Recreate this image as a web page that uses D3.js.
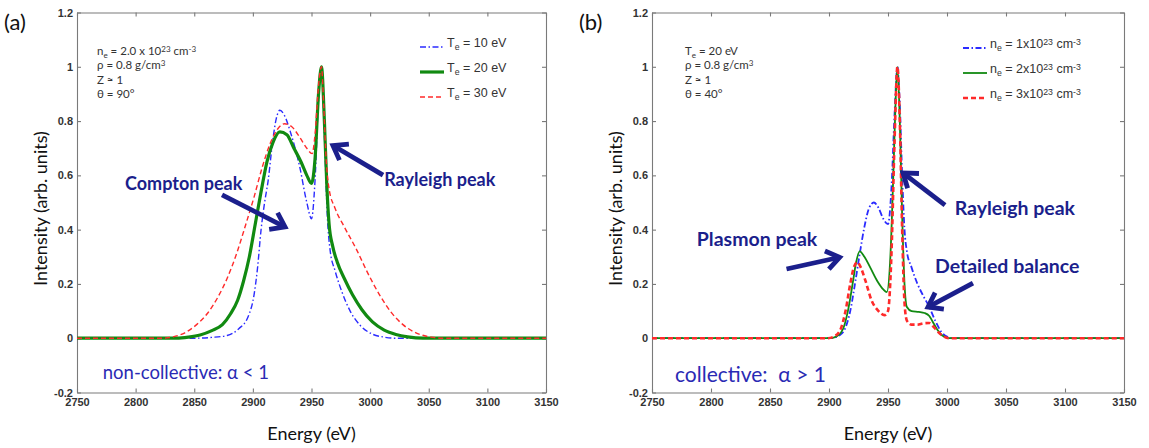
<!DOCTYPE html>
<html>
<head>
<meta charset="utf-8">
<script src="https://cdn.jsdelivr.net/npm/d3@7"></script>
<style>
  body { margin: 0; background: #fff; }
  svg { display: block; }
</style>
</head>
<body>
<svg id="chart" width="1149" height="448"></svg>
<script>
// ---- data: [energy (eV), intensity (arb. units)] ----

// panel (a): non-collective, three temperatures
const te10 = [[2750,0],[2850,0],[2865,0.003],[2878,0.01],[2888,0.035],[2896,0.08],[2901,0.16],[2904,0.26],[2907,0.40],[2910,0.50],[2913,0.58],[2917,0.73],[2920,0.81],[2923,0.84],[2927,0.82],[2932,0.76],[2940,0.63],[2946,0.50],[2950,0.44],[2953,0.58],[2956,0.88],[2958.5,1.0],[2961,0.75],[2963.5,0.45],[2966,0.32],[2970,0.25],[2976,0.17],[2983,0.10],[2992,0.045],[3002,0.015],[3012,0.004],[3022,0],[3150,0]]
const te20 = [[2750,0],[2835,0],[2845,0.004],[2855,0.012],[2865,0.028],[2874,0.05],[2881,0.09],[2887,0.14],[2892,0.21],[2897,0.30],[2902,0.42],[2907,0.54],[2912,0.65],[2917,0.72],[2923,0.76],[2929,0.75],[2935,0.70],[2941,0.65],[2946,0.60],[2950,0.57],[2953,0.66],[2956,0.90],[2958.5,1.0],[2961,0.80],[2963,0.57],[2965,0.42],[2968,0.34],[2972,0.28],[2978,0.22],[2985,0.16],[2993,0.105],[3002,0.06],[3012,0.03],[3022,0.014],[3032,0.005],[3045,0],[3150,0]]
const te30 = [[2750,0],[2822,0],[2832,0.005],[2842,0.02],[2852,0.05],[2861,0.09],[2870,0.15],[2878,0.22],[2886,0.31],[2894,0.42],[2901,0.52],[2908,0.63],[2915,0.72],[2921,0.77],[2927,0.79],[2933,0.78],[2940,0.74],[2946,0.70],[2950.5,0.68],[2953,0.75],[2956,0.93],[2958.5,1.0],[2960.5,0.85],[2962.5,0.66],[2965,0.55],[2970,0.48],[2978,0.41],[2988,0.33],[2998,0.24],[3008,0.16],[3018,0.095],[3028,0.05],[3040,0.018],[3052,0.004],[3062,0],[3150,0]]

// panel (b): collective, three densities
const ne1 = [[2750,0],[2902,0],[2908,0.008],[2913,0.03],[2918,0.10],[2922,0.20],[2926,0.31],[2930,0.41],[2934,0.48],[2938,0.50],[2942,0.48],[2946,0.44],[2950,0.42],[2953,0.56],[2955.5,0.82],[2958,1.0],[2960,0.86],[2962,0.60],[2964,0.40],[2966,0.32],[2970,0.26],[2975,0.20],[2980,0.155],[2985,0.115],[2990,0.065],[2995,0.025],[3000,0.006],[3006,0],[3150,0]]
const ne2 = [[2750,0],[2901,0],[2907,0.008],[2912,0.035],[2916,0.10],[2920,0.20],[2923,0.28],[2926,0.32],[2930,0.30],[2935,0.26],[2941,0.21],[2946,0.18],[2949,0.17],[2952,0.30],[2954.5,0.60],[2956.5,0.88],[2958,1.0],[2960,0.80],[2962,0.45],[2964,0.20],[2966,0.115],[2970,0.10],[2976,0.097],[2981,0.093],[2985,0.082],[2988,0.06],[2992,0.03],[2996,0.01],[3002,0],[3150,0]]
const ne3 = [[2750,0],[2899,0],[2905,0.008],[2910,0.035],[2914,0.10],[2918,0.20],[2921,0.26],[2924,0.28],[2927,0.26],[2931,0.21],[2936,0.14],[2942,0.10],[2947,0.085],[2950,0.10],[2953,0.32],[2955.5,0.72],[2958,1.0],[2960,0.80],[2962,0.40],[2964,0.13],[2966,0.065],[2970,0.05],[2975,0.05],[2980,0.055],[2985,0.056],[2988,0.045],[2992,0.025],[2996,0.01],[3002,0],[3150,0]]

// axes
const xTicks = [2750, 2800, 2850, 2900, 2950, 3000, 3050, 3100, 3150]
const yTicks = [-0.2, 0, 0.2, 0.4, 0.6, 0.8, 1, 1.2]

// labels ( _{..} = subscript, ^{..} = superscript )
const legendA = ['T_{e} = 10 eV', 'T_{e} = 20 eV', 'T_{e} = 30 eV']
const legendB = ['n_{e}  =  1x10^{23} cm^{-3}', 'n_{e}  =  2x10^{23} cm^{-3}', 'n_{e}  =  3x10^{23} cm^{-3}']
const paramsA = ['n_{e} = 2.0 x 10^{23} cm^{-3}', 'ρ =  0.8 g/cm^{3}', 'Z ≈ 1', 'θ = 90°']
const paramsB = ['T_{e} = 20 eV', 'ρ =  0.8 g/cm^{3}', 'Z ≈ 1', 'θ = 40°']

// ---- styles ----
const BLUE = '#2b2bff', GREEN = '#118a11', RED = '#ff2a2a'
const NAVY = '#1b1f8c', TEXTBLUE = '#2a2ab4'
const styleA = [
  {stroke: BLUE, width: 1.4, dash: '6,2.5,1.5,2.5'},
  {stroke: GREEN, width: 3.2, dash: null},
  {stroke: RED, width: 1.4, dash: '5,3'}
]
const styleB = [
  {stroke: BLUE, width: 1.8, dash: '6,2.5,1.5,2.5'},
  {stroke: GREEN, width: 1.8, dash: null},
  {stroke: RED, width: 2.6, dash: '5,3'}
]

const panels = [
  {
    tag: '(a)', left: 77, right: 546,
    series: [te10, te20, te30], styles: styleA,
    legend: legendA, legendX: 343, legendRows: [45, 70, 95],
    params: paramsA, paramX: 20,
    noteSize: 18, regimeSize: 18.5,
    notes: [
      {text: 'Compton peak', e: 2791, i: 0.57},
      {text: 'Rayleigh peak', e: 3012, i: 0.583}
    ],
    arrows: [
      {from: [2873.7, 0.528], to: [2927.4, 0.41]},
      {from: [3011, 0.601], to: [2968.3, 0.71]}
    ],
    regime: {text: 'non-collective: α < 1', e: 2772, i: -0.128}
  },
  {
    tag: '(b)', left: 652, right: 1124,
    series: [ne1, ne2, ne3], styles: styleB,
    legend: legendB, legendX: 311, legendRows: [46, 71, 96],
    params: paramsB, paramX: 33,
    noteSize: 19.5, regimeSize: 21,
    notes: [
      {text: 'Plasmon peak', e: 2788, i: 0.362},
      {text: 'Rayleigh peak', e: 3006.5, i: 0.475},
      {text: 'Detailed balance', e: 2989.8, i: 0.262}
    ],
    arrows: [
      {from: [2864, 0.255], to: [2909, 0.298]},
      {from: [2998.3, 0.49], to: [2962.7, 0.609]},
      {from: [3022, 0.203], to: [2983.9, 0.115]}
    ],
    regime: {text: 'collective:\u00a0 α > 1', e: 2769.5, i: -0.14}
  }
]

const svg = d3.select('#chart')
const plotTop = 12.5, plotBottom = 392.5
const SANS = '"Liberation Sans", Arial, sans-serif'
const CAL = 'Lato, "Open Sans", sans-serif'

// Writes a string with _{sub} and ^{sup} parts as tspans
const richText = (sel, str) => {
  const re = /([_^])\{([^}]*)\}|([^_^]+)/g
  let m, shift = 0
  while ((m = re.exec(str)) !== null) {
    const s = m[1] === '_' ? 2.5 : m[1] === '^' ? -3.5 : 0
    sel.append('tspan')
      .attr('dy', s - shift)
      .attr('font-size', m[1] ? '0.7em' : null)
      .text(m[1] ? m[2] : m[3])
    shift = s
  }
  return sel
}

// Thick arrow with an open chevron head
const drawArrow = (g, x1, y1, x2, y2) => {
  const a = Math.atan2(y2 - y1, x2 - x1)
  const len = 16, spread = 0.62
  g.append('line')
    .attr('x1', x1).attr('y1', y1).attr('x2', x2 - 2 * Math.cos(a)).attr('y2', y2 - 2 * Math.sin(a))
    .attr('stroke', NAVY).attr('stroke-width', 4.8)
  const p1 = [x2 - len * Math.cos(a - spread), y2 - len * Math.sin(a - spread)]
  const p2 = [x2 - len * Math.cos(a + spread), y2 - len * Math.sin(a + spread)]
  g.append('path')
    .attr('d', `M${p1}L${x2},${y2}L${p2}`)
    .attr('fill', 'none').attr('stroke', NAVY).attr('stroke-width', 4.8)
    .attr('stroke-linejoin', 'miter').attr('stroke-miterlimit', 10)
}

const styleAxis = g => {
  g.selectAll('path, line').attr('stroke', '#7a7a7a').attr('stroke-width', 1.1)
  g.selectAll('text').attr('font-family', SANS).attr('font-size', 11)
    .attr('font-weight', 'bold').attr('fill', '#333')
}

function drawPanel(p) {
  const x = d3.scaleLinear().domain([2750, 3150]).range([p.left, p.right])
  const y = d3.scaleLinear().domain([-0.2, 1.2]).range([plotBottom, plotTop])
  const g = svg.append('g')

  // frame with inward ticks
  g.append('g').attr('transform', `translate(0,${plotBottom})`)
    .call(d3.axisBottom(x).tickValues(xTicks).tickFormat(d3.format('d')).tickSizeInner(-4).tickSizeOuter(0).tickPadding(6))
    .call(styleAxis)
  g.append('g').attr('transform', `translate(0,${plotTop})`)
    .call(d3.axisTop(x).tickValues(xTicks).tickFormat('').tickSizeInner(-4).tickSizeOuter(0))
    .call(styleAxis)
  g.append('g').attr('transform', `translate(${p.left},0)`)
    .call(d3.axisLeft(y).tickValues(yTicks).tickFormat(d => String(+d.toFixed(1))).tickSizeInner(-4).tickSizeOuter(0).tickPadding(4))
    .call(styleAxis)
  g.append('g').attr('transform', `translate(${p.right},0)`)
    .call(d3.axisRight(y).tickValues(yTicks).tickFormat('').tickSizeInner(-4).tickSizeOuter(0))
    .call(styleAxis)

  // spectra
  const line = d3.line().x(d => x(d[0])).y(d => y(d[1])).curve(d3.curveMonotoneX)
  p.series.forEach((s, k) => {
    const st = p.styles[k]
    g.append('path').datum(s)
      .attr('d', line)
      .attr('fill', 'none')
      .attr('stroke', st.stroke)
      .attr('stroke-width', st.width)
      .attr('stroke-dasharray', st.dash)
      .attr('stroke-linejoin', 'round')
  })

  // legend
  p.legend.forEach((lab, k) => {
    const st = p.styles[k], ly = p.legendRows[k]
    const lx = p.left + p.legendX
    g.append('line')
      .attr('x1', lx).attr('x2', lx + 24).attr('y1', ly + 2).attr('y2', ly + 2)
      .attr('stroke', st.stroke).attr('stroke-width', st.width)
      .attr('stroke-dasharray', st.dash)
    richText(g.append('text').attr('x', lx + 27).attr('y', ly + 2)
      .attr('font-family', SANS).attr('font-size', 12.5).attr('fill', '#333'), lab)
  })

  // plasma parameters
  p.params.forEach((t, k) => {
    richText(g.append('text').attr('x', p.left + p.paramX).attr('y', 55 + k * 14.3)
      .attr('font-family', CAL).attr('font-size', 11.5).attr('fill', '#333'), t)
  })

  // annotations
  p.notes.forEach(n => {
    g.append('text').attr('x', x(n.e)).attr('y', y(n.i) + 6)
      .attr('font-family', CAL).attr('font-size', p.noteSize).attr('font-weight', 'bold')
      .attr('fill', NAVY).text(n.text)
  })
  p.arrows.forEach(a => drawArrow(g, x(a.from[0]), y(a.from[1]), x(a.to[0]), y(a.to[1])))

  g.append('text').attr('x', x(p.regime.e)).attr('y', y(p.regime.i) + 6)
    .attr('font-family', CAL).attr('font-size', p.regimeSize).attr('fill', TEXTBLUE).text(p.regime.text)

  // axis titles
  g.append('text')
    .attr('transform', `translate(${p.left - 30},${(plotTop + plotBottom) / 2 + 6}) rotate(-90)`)
    .attr('text-anchor', 'middle').attr('font-family', CAL).attr('font-size', 18).attr('fill', '#111')
    .text('Intensity (arb. units)')
  g.append('text')
    .attr('x', (p.left + p.right) / 2).attr('y', 440)
    .attr('text-anchor', 'middle').attr('font-family', CAL).attr('font-size', 18).attr('fill', '#111')
    .text('Energy (eV)')

  g.append('text').attr('x', p.left - 73).attr('y', 30)
    .attr('font-family', CAL).attr('font-size', 22).attr('fill', '#111').text(p.tag)
}

panels.forEach(drawPanel)
</script>
</body>
</html>
